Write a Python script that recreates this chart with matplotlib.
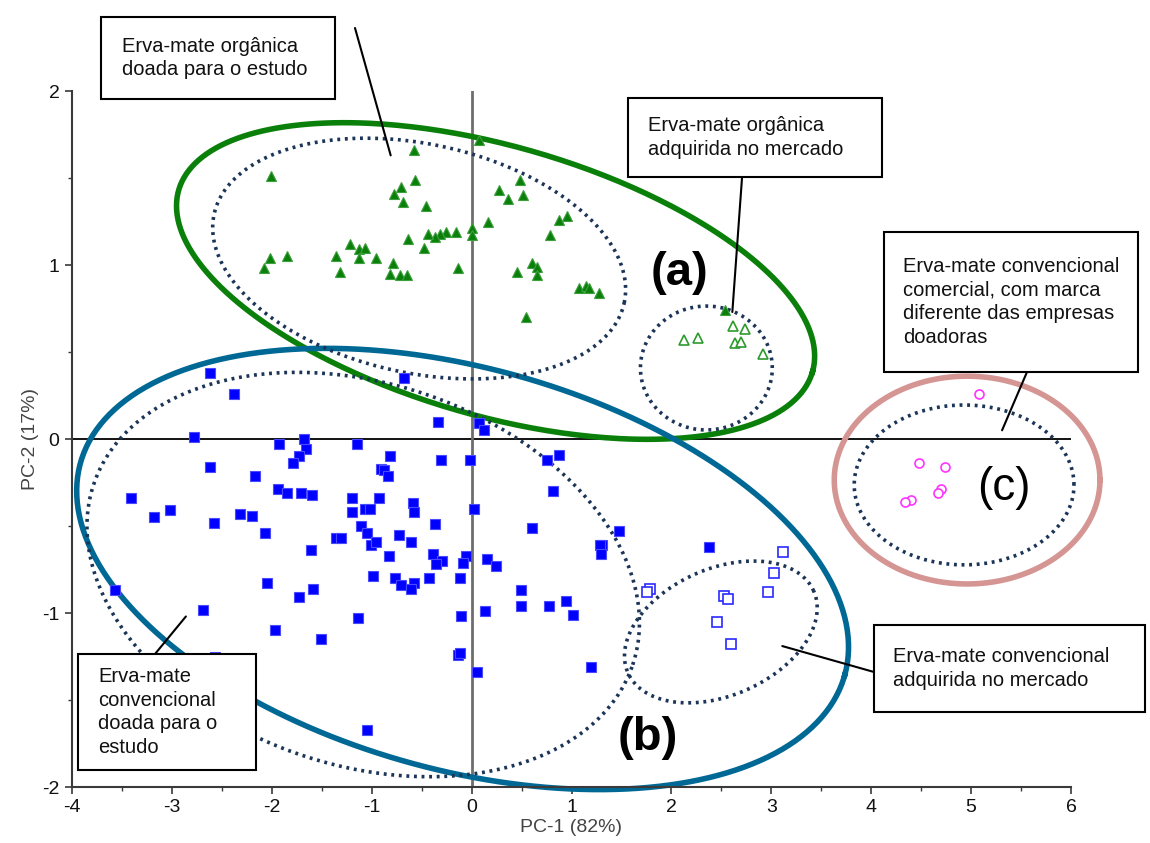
import numpy as np
import matplotlib
matplotlib.use("Agg")
import matplotlib.pyplot as plt
from matplotlib.patches import Rectangle
from matplotlib.ticker import MultipleLocator

plt.rcParams['font.family'] = ['Liberation Sans', 'DejaVu Sans']
plt.rcParams['axes.unicode_minus'] = False

# --- scores (PC-1, PC-2) ---
org_donated_x = [0.07, -0.58, -2.01, -0.57, -0.71, -0.78, -0.69, -0.46, 0.48, 0.27,
                 0.51, 0.36, 0.16, 0.95, 0.87, 0.78, 0.00, 0.00, -0.16, -0.26,
                 -0.32, -0.37, -0.44, -0.64, -0.48, -1.22, -1.13, -1.07, -1.13, -1.36,
                 -0.96, -1.32, -0.79, -0.82, -0.72, -0.65, -0.14, -2.02, -1.85, -2.08,
                 0.60, 0.65, 0.65, 0.45, 1.08, 1.15, 1.18, 1.28, 0.54, 2.54]
org_donated_y = [1.72, 1.66, 1.51, 1.49, 1.45, 1.41, 1.36, 1.34, 1.49, 1.43,
                 1.40, 1.38, 1.25, 1.28, 1.26, 1.17, 1.21, 1.17, 1.19, 1.19,
                 1.18, 1.16, 1.18, 1.15, 1.10, 1.12, 1.09, 1.10, 1.04, 1.05,
                 1.04, 0.96, 1.01, 0.95, 0.94, 0.94, 0.98, 1.04, 1.05, 0.98,
                 1.01, 0.99, 0.94, 0.96, 0.87, 0.88, 0.87, 0.84, 0.70, 0.74]

org_market_x = [2.62, 2.74, 2.13, 2.27, 2.64, 2.70, 2.92]
org_market_y = [0.65, 0.63, 0.57, 0.58, 0.55, 0.56, 0.49]

conv_donated_x = [-2.62, -2.38, -2.78, -1.93, -1.68, -1.66, -1.73, -1.79, -2.62, -2.17,
                  -1.94, -1.85, -1.71, -1.60, -1.20, -1.20, -1.15, -3.41, -3.18, -3.02,
                  -2.58, -2.32, -2.20, -2.07, -1.36, -1.31, -1.61, -2.05, -1.59, -1.73,
                  -3.57, -2.69, -1.14, -0.68, -0.34, 0.07, 0.12, -0.82, -0.31, -0.02,
                  0.75, 0.87, -0.91, -0.88, -0.84, 0.81, -0.93, -1.07, -1.02, -0.59,
                  -0.58, 0.02, -1.11, -1.05, -0.37, 0.60, 1.48, 1.31, 1.29, 1.30,
                  -0.73, -0.61, -1.01, -0.96, -0.83, -0.39, -0.30, -0.36, -0.06, -0.09,
                  0.15, 0.24, -0.99, -0.77, -0.71, -0.58, -0.61, -0.43, -0.12, 0.49,
                  0.49, 0.77, 0.94, 1.02, -0.11, 0.13, -1.97, -1.51, -2.57, -1.05,
                  -0.14, -0.12, 0.05, 1.20, 2.38]
conv_donated_y = [0.38, 0.26, 0.01, -0.03, 0.00, -0.06, -0.10, -0.14, -0.16, -0.21,
                  -0.29, -0.31, -0.31, -0.32, -0.34, -0.42, -0.03, -0.34, -0.45, -0.41,
                  -0.48, -0.43, -0.44, -0.54, -0.57, -0.57, -0.64, -0.83, -0.86, -0.91,
                  -0.87, -0.98, -1.03, 0.35, 0.10, 0.09, 0.05, -0.10, -0.12, -0.12,
                  -0.12, -0.09, -0.17, -0.18, -0.21, -0.30, -0.34, -0.40, -0.40, -0.37,
                  -0.42, -0.40, -0.50, -0.54, -0.49, -0.51, -0.53, -0.61, -0.61, -0.66,
                  -0.55, -0.59, -0.61, -0.59, -0.67, -0.66, -0.70, -0.72, -0.67, -0.71,
                  -0.69, -0.73, -0.79, -0.80, -0.84, -0.83, -0.86, -0.80, -0.80, -0.87,
                  -0.96, -0.96, -0.93, -1.01, -1.02, -0.99, -1.10, -1.15, -1.25, -1.67,
                  -1.24, -1.23, -1.34, -1.31, -0.62]

conv_market_x = [3.12, 3.03, 2.97, 1.79, 1.76, 2.53, 2.57, 2.46, 2.60]
conv_market_y = [-0.65, -0.77, -0.88, -0.86, -0.88, -0.90, -0.92, -1.05, -1.18]

other_brand_x = [5.08, 4.48, 4.74, 4.70, 4.67, 4.40, 4.34]
other_brand_y = [0.26, -0.14, -0.16, -0.29, -0.31, -0.35, -0.36]

# group ellipses: centre (data), semi-axes in PC-1 units, tilt (deg, on screen)
ell_centers = [(0.24, 0.908), (-0.09, -0.747), (4.96, -0.236),
               (-0.525, 1.037), (2.35, 0.408), (-1.085, -0.779), (2.495, -1.109), (4.93, -0.264)]
ell_axes = [(3.30, 1.35), (3.97, 2.01), (1.33, 1.04),
            (2.10, 1.146), (0.66, 0.62), (2.845, 1.91), (1.016, 0.634), (1.10, 0.80)]
ell_angles = [-16, -15.5, 0, -12.2, 0, -18.5, 23.7, 0]
ell_colors = ['#0a800a', '#006894', '#d49593',
              '#1c3557', '#1c3557', '#1c3557', '#1c3557', '#1c3557']
ell_dotted = [False, False, False, True, True, True, True, True]

W, H = 1150, 843
XMIN, XMAX, YMIN, YMAX = -4, 6, -2, 2


def fpx(px, py):
    return px / W, 1 - py / H


fig = plt.figure(figsize=(W / 100, H / 100), dpi=100)
ax = fig.add_axes([72 / W, 1 - 787 / H, 999 / W, 696 / H])
ax.set_xlim(XMIN, XMAX)
ax.set_ylim(YMIN, YMAX)

ax.axhline(0, color='black', lw=1.3, zorder=1)
ax.axvline(0, color='#6e6e6e', lw=2, zorder=1)

# screen aspect: PC-1 units -> PC-2 units
k = (999 / (XMAX - XMIN)) / (696 / (YMAX - YMIN))
t = np.linspace(0, 2 * np.pi, 400)
for (cx, cy), (a, b), ang, col, dot in zip(ell_centers, ell_axes, ell_angles, ell_colors, ell_dotted):
    th = np.radians(ang)
    ex = cx + a * np.cos(t) * np.cos(th) - b * np.sin(t) * np.sin(th)
    ey = cy + (a * np.cos(t) * np.sin(th) + b * np.sin(t) * np.cos(th)) * k
    if dot:
        ax.plot(ex, ey, color=col, lw=2.6, ls=(0, (0.8, 1.3)), dash_capstyle='butt',
                zorder=2, clip_on=False)
    else:
        ax.plot(ex, ey, color=col, lw=4, zorder=2, clip_on=False)

ax.plot(org_donated_x, org_donated_y, ls='none', marker='^', ms=7.5,
        mfc='#0a800a', mec='#3d9e3d', mew=0.8, zorder=4)
ax.plot(org_market_x, org_market_y, ls='none', marker='^', ms=7,
        mfc='white', mec='#2e9a2e', mew=1.2, zorder=4)
ax.plot(conv_donated_x, conv_donated_y, ls='none', marker='s', ms=6.5,
        mfc='#0000ff', mec='#4a4aff', mew=0.8, zorder=4)
ax.plot(conv_market_x, conv_market_y, ls='none', marker='s', ms=6.5,
        mfc='white', mec='#2a2aff', mew=1.2, zorder=4)
ax.plot(other_brand_x, other_brand_y, ls='none', marker='o', ms=6.5,
        mfc='white', mec='#ff33ff', mew=1.2, zorder=4)

# axes styling
for side in ['top', 'right']:
    ax.spines[side].set_visible(False)
for side in ['left', 'bottom']:
    ax.spines[side].set_color('#3a3a3a')
    ax.spines[side].set_linewidth(1.5)
ax.xaxis.set_major_locator(MultipleLocator(1))
ax.xaxis.set_minor_locator(MultipleLocator(0.5))
ax.yaxis.set_major_locator(MultipleLocator(1))
ax.yaxis.set_minor_locator(MultipleLocator(0.5))
ax.tick_params(which='major', length=5, width=1.2, color='#3a3a3a', labelsize=14,
               labelcolor='#111111', pad=4)
ax.tick_params(which='minor', length=3, width=1.0, color='#3a3a3a')
ax.set_xlabel('PC-1 (82%)', fontsize=14, color='#444444', labelpad=2)
ax.set_ylabel('PC-2 (17%)', fontsize=14, color='#444444', labelpad=2)

# group letters
ax.text(2.08, 0.955, '(a)', fontsize=34, fontweight='bold', ha='center', va='center', zorder=5)
ax.text(1.76, -1.72, '(b)', fontsize=34, fontweight='bold', ha='center', va='center', zorder=5)
ax.text(5.33, -0.28, '(c)', fontsize=33, ha='center', va='center', zorder=5)

# call-out boxes: (box px: left, top, right, bottom), text left px, text
boxes = [
    ((101, 17, 335, 99), 122, 'Erva-mate orgânica\ndoada para o estudo'),
    ((628, 98, 882, 177), 648, 'Erva-mate orgânica\nadquirida no mercado'),
    ((884, 232, 1138, 372), 903, 'Erva-mate convencional\ncomercial, com marca\ndiferente das empresas\ndoadoras'),
    ((874, 625, 1145, 712), 893, 'Erva-mate convencional\nadquirida no mercado'),
    ((78, 654, 256, 770), 98, 'Erva-mate\nconvencional\ndoada para o\nestudo'),
]
for (l, tp, r, bt), tx, label in boxes:
    x0, y0 = fpx(l, bt)
    rect = Rectangle((x0, y0), (r - l) / W, (bt - tp) / H, transform=fig.transFigure,
                     facecolor='white', edgecolor='black', lw=1.5, zorder=6)
    fig.add_artist(rect)
    fx, fy = fpx(tx, (tp + bt) / 2)
    fig.text(fx, fy, label, fontsize=14.5, ha='left', va='center', linespacing=1.33,
             color='#111111', zorder=7)

# leader lines: data point -> figure pixel
leaders = [((-0.81, 1.63), (355, 28)),
           ((2.61, 0.73), (742, 178)),
           ((5.31, 0.05), (1027, 372)),
           ((3.11, -1.19), (874, 672)),
           ((-2.86, -1.02), (155, 654))]
for xy, (px, py) in leaders:
    ax.annotate('', xy=xy, xycoords='data', xytext=fpx(px, py), textcoords='figure fraction',
                arrowprops=dict(arrowstyle='-', color='black', lw=1.5, shrinkA=0, shrinkB=0),
                annotation_clip=False, zorder=5)

fig.savefig('out.png', dpi=100)
